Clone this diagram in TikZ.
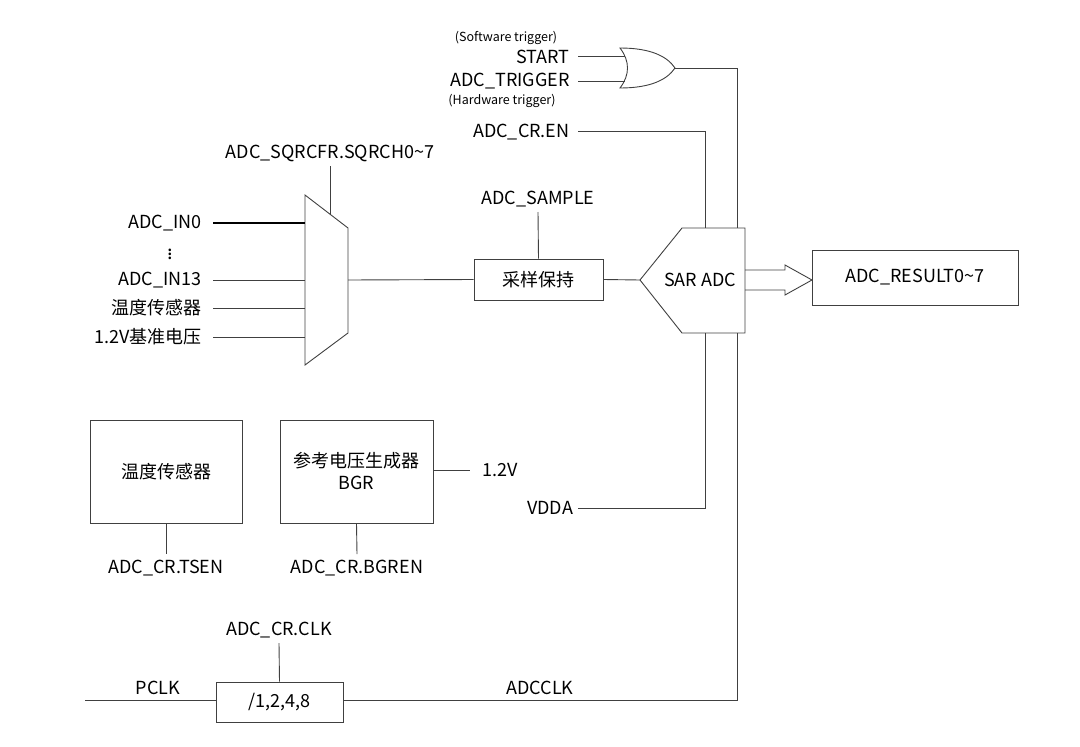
\documentclass[tikz,border=0pt]{standalone}
\usepackage{fontspec}
\setmainfont{Noto Sans CJK SC}
\usetikzlibrary{arrows.meta}
\begin{document}
\begin{tikzpicture}[x=1pt,y=-1pt,line width=0.9pt,draw=black!75,
  lbl/.style={inner sep=0pt,font=\fontsize{18}{20}\selectfont},
  sm/.style={inner sep=0pt,font=\fontsize{12.5}{14}\selectfont},
  box/.style={draw=black!75,line width=0.9pt,inner sep=0pt}]
\useasboundingbox (0,0) rectangle (1080,747);
% OR gate
\draw (620,48) .. controls (650,48) and (667,56) .. (675,68) .. controls (667,80) and (650,88) .. (620,88) .. controls (630,75) and (630,61) .. cycle;
\coordinate (orout) at (675,68);
\node[sm] (sw) at (506,38) {(Software trigger)};
\node[lbl,anchor=east] (start) at (570,57) {START};
\node[lbl,anchor=east] (trig) at (570,81) {ADC\_TRIGGER};
\node[sm] (hw) at (502,101) {(Hardware trigger)};
\node[lbl,anchor=east] (en) at (570,132) {ADC\_CR.EN};
\coordinate (s0) at (578,56); \coordinate (s1) at (625,56);
\coordinate (t0) at (578,81); \coordinate (t1) at (625,81);
\draw (s0) -- (s1); \draw (t0) -- (t1);
% SAR ADC
\draw[line width=0.9pt] (640,280) -- (682,228) -- (745,228) -- (745,333) -- (682,333) -- cycle;
\node[lbl] (sar) at (700,280) {SAR ADC};
\coordinate (sarl) at (640,280);
\coordinate (sart1) at (705,228); \coordinate (sart2) at (737,228);
\coordinate (sarb1) at (705,333); \coordinate (sarb2) at (737,333);
\coordinate (orr) at (737,68);
\draw (orout) -- (orr) -- (sart2);
\coordinate (en0) at (578,131); \coordinate (en1) at (705,131);
\draw (en0) -- (en1) -- (sart1);
% result
\node[box,minimum width=206pt,minimum height=55pt] (res) at (915,277.5) {\fontsize{18}{20}\selectfont ADC\_RESULT0\textasciitilde7};
\draw[line width=0.9pt] (745,270) -- (785,270) -- (785,265) -- (812,280) -- (785,295) -- (785,290) -- (745,290);
% sample hold
\node[box,minimum width=129pt,minimum height=41pt] (sh) at (538.5,279.5) {\fontsize{18}{20}\selectfont 采样保持};
\node[lbl] (samp) at (538,199) {ADC\_SAMPLE};
\draw (samp.south |- 0,212) -- (sh.north);
\draw (sh.east) -- (sarl);
% mux
\draw (305,195) -- (348,228) -- (348,333) -- (305,365) -- cycle;
\coordinate (muxo) at (348,280);
\draw (muxo) -- (sh.west);
\node[lbl] (sel) at (330,153) {ADC\_SQRCFR.SQRCH0\textasciitilde7};
\coordinate (selb) at (330,214);
\draw (330,166) -- (selb);
\node[lbl,anchor=east] (in0) at (202,223) {ADC\_IN0};
\node[inner sep=0pt,font=\fontsize{20}{20}\selectfont] (dots) at (170,251) {$\vdots$};
\node[lbl,anchor=east] (in13) at (202,280) {ADC\_IN13};
\node[lbl,anchor=east] (tmp) at (202,308) {温度传感器};
\node[lbl,anchor=east] (ref) at (202,337) {1.2V基准电压};
\draw[line width=1.4pt,draw=black] (213,223) -- (305,223);
\foreach \y in {280,308,337} \draw (213,\y) -- (305,\y);
% temp sensor
\node[box,minimum width=152pt,minimum height=103pt] (ts) at (166,471.5) {\fontsize{18}{20}\selectfont 温度传感器};
\node[lbl] (tsen) at (166,568) {ADC\_CR.TSEN};
\draw (ts.south) -- (166,554);
% BGR
\node[box,minimum width=153pt,minimum height=103pt,align=center,font=\fontsize{18}{22}\selectfont] (bgr) at (356.5,471.5) {参考电压生成器\\BGR};
\node[lbl] (bgren) at (357,568) {ADC\_CR.BGREN};
\draw (bgr.south) -- (357,554);
\node[lbl] (v12) at (500,470) {1.2V};
\draw (bgr.east |- 0,470) -- (470,470);
\node[lbl] (vdda) at (550,508) {VDDA};
\draw (578,508) -- (705,508) -- (sarb1);
% clock
\node[box,minimum width=127pt,minimum height=40pt] (div) at (279.5,702) {\fontsize{18}{20}\selectfont /1,2,4,8};
\node[lbl] (pclk) at (158,688) {PCLK};
\node[lbl] (adcclk) at (540,688) {ADCCLK};
\node[lbl] (clk) at (279,630) {ADC\_CR.CLK};
\draw (279,643) -- (div.north);
\coordinate (p0) at (85,700);
\draw (p0) -- (div.west |- p0);
\draw (div.east |- p0) -- (737,700) -- (sarb2);
\end{tikzpicture}
\end{document}
